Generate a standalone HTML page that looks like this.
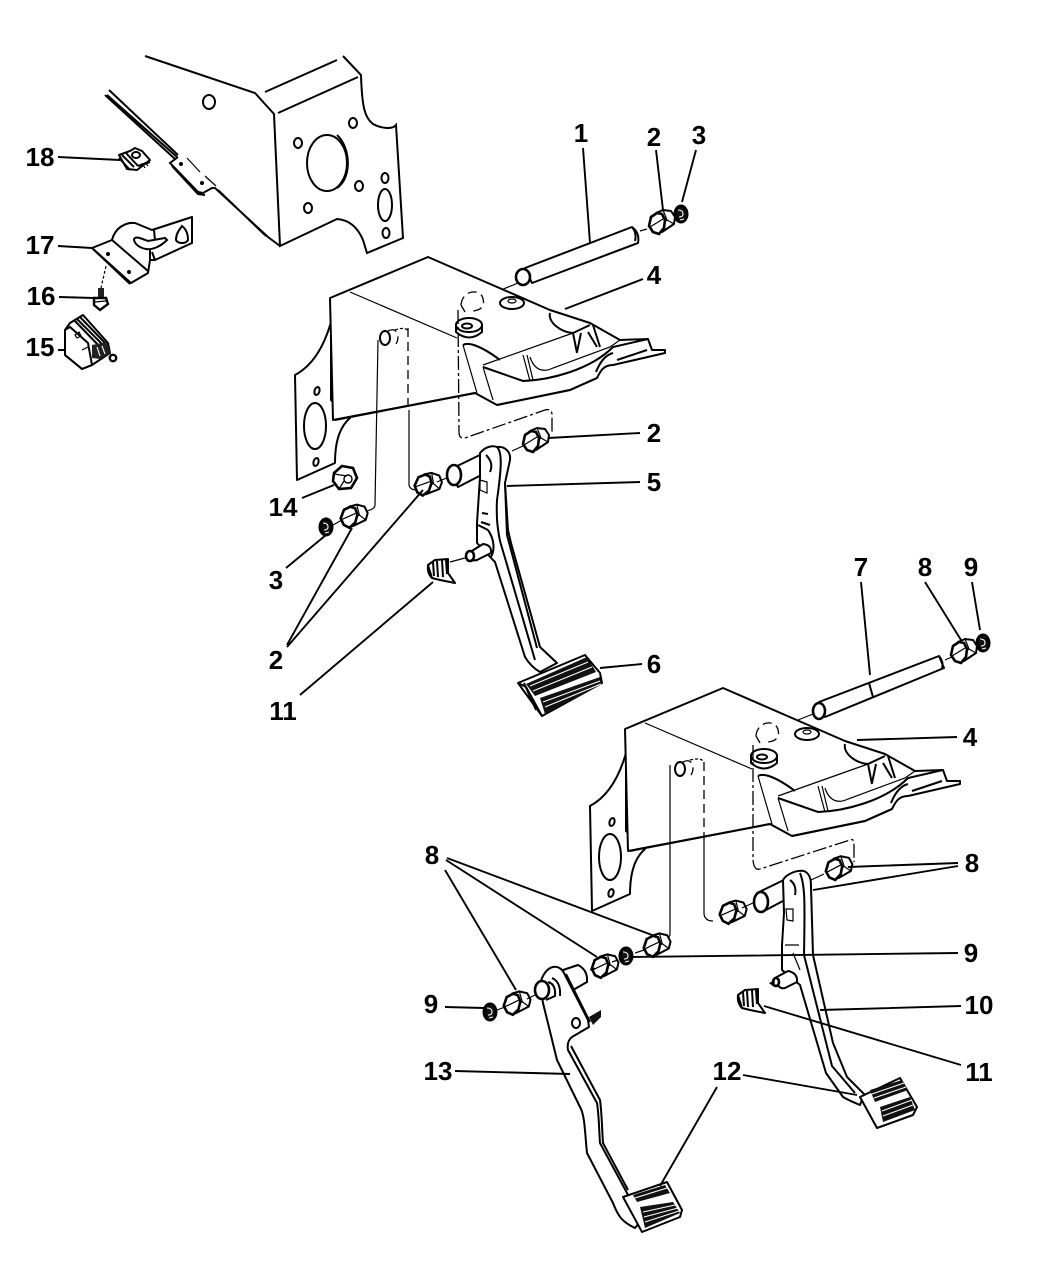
<!DOCTYPE html>
<html><head><meta charset="utf-8"><style>
html,body{margin:0;padding:0;background:#fff}
svg{display:block}
text{font-family:"Liberation Sans",sans-serif;font-size:26px;font-weight:bold;fill:#000;text-anchor:middle}
.l{fill:none;stroke:#000;stroke-width:2}
.t{fill:none;stroke:#000;stroke-width:1.2}
.p{fill:#fff;stroke:#000;stroke-width:2;stroke-linejoin:round}
.h{fill:#fff;stroke:#000;stroke-width:2.6}
.d{fill:none;stroke:#000;stroke-width:1.3;stroke-dasharray:9 5}
.dd{fill:none;stroke:#000;stroke-width:1.3;stroke-dasharray:14 3 3 3}
.w{fill:none;stroke:#fff;stroke-width:1.1}
</style></head><body>
<svg width="1052" height="1277" viewBox="0 0 1052 1277" xmlns="http://www.w3.org/2000/svg">
<defs>
<g id="bush">
<path class="p" d="M-4,-10 L3,-13 L11,-12 L15,-6 L14,1 L2,9Z" stroke-width="2.4"/>
<path class="t" d="M3,-13 L7,-3 L14,1 M7,-3 L1,2"/>
<path class="h" d="M-9,-6 L-3,-10 L2,-9 L5,-3 L4,5 L-1,11 L-7,9 L-11,3Z" stroke-width="3.2"/>
<path class="t" d="M-10,4 L3,-4"/>
</g>
<g id="wash">
<ellipse cx="0" cy="0" rx="6" ry="8" fill="#111" stroke="#000" stroke-width="3"/>
<path class="w" d="M-3,-4 Q2,-4 2,0 Q2,3 -2,3 M-1,6 L3,5" stroke-width="1.3"/>
</g>
<g id="clip">
<path class="p" d="M-12,-3 L-5,-8 L8,-9 L8,5 L15,15 L0,12 L-8,10Z" stroke-width="2.2"/>
<path class="l" d="M-12,-3 Q-13,5 -8,10 M-7,-6 L-6,8 M-3,-7 L-2,9 M2,-8 L3,9 M6,-8 L7,6" stroke-width="2"/>
</g>
<g id="bracket">
<path class="p" d="M331,322 C323,350 310,367 295,375 L297,480 L335,463 C335,437 342,425 350,418 L331,400Z"/>
<ellipse class="l" cx="315" cy="426" rx="11" ry="23" stroke-width="1.5"/>
<ellipse class="l" cx="317" cy="391" rx="2.5" ry="4" transform="rotate(15 317 391)"/>
<ellipse class="l" cx="316" cy="462" rx="2.5" ry="4" transform="rotate(15 316 462)"/>
<path class="p" d="M330,298 L428,257 L550,310 L590,323 L620,340 L648,339 L652,350 L665,350 L665,353 L613,365 C603,365 600,372 597,378 L570,390 L497,405 L475,393 L333,420Z" stroke-width="2.2"/>
<path class="l" d="M475,393 L335,420" stroke-width="2.6"/>
<path class="l" d="M497,405 L570,390 L597,378" stroke-width="3"/>
<path class="t" d="M350,292 L457,338"/>
<path class="t" d="M463,345 L477,393 M483,367 L493,400"/>
<path class="l" d="M463,345 C468,342 480,345 500,360 M483,367 L523,381 C550,380 590,370 613,347 L648,339"/>
<path class="t" d="M483,365 L573,333 M523,355 L530,381 M527,355 L533,380"/>
<path class="l" d="M550,313 C548,322 560,332 573,333 M573,333 L590,325 M573,333 L577,353 M593,325 L600,347" stroke-width="1.5"/>
<path class="l" d="M581,333 L577,352 M588,332 L597,347" stroke-width="2.2"/>
<path class="t" d="M530,357 C535,372 545,372 553,368 L610,347 L620,340"/>
<path class="l" d="M613,353 C605,355 600,362 596,372 M617,360 L647,350" stroke-width="1.5"/>
<ellipse class="p" cx="512" cy="303" rx="12" ry="6"/>
<ellipse class="t" cx="512" cy="301" rx="4" ry="2"/>
<path class="p" d="M456,325 L456,332 Q469,343 482,332 L482,325Z"/>
<ellipse class="p" cx="469" cy="325" rx="13" ry="7"/>
<ellipse class="l" cx="467" cy="326" rx="5" ry="2.5"/>
<path class="d" d="M461,305 C462,292 476,288 482,296 C486,305 482,310 473,311 M461,305 L465,312" stroke-dasharray="4 3"/>
<ellipse class="l" cx="385" cy="338" rx="5" ry="7" stroke-width="1.8"/>
<path class="d" d="M388,331 C398,326 400,338 396,344" stroke-dasharray="4 3"/>
</g>
</defs>

<!-- top panel -->
<path class="l" d="M145,56 L255,93 L274,114 L280,246 L337,219 C350,220 358,228 363,240 L367,253 L403,238 L396,125 C392,130 380,128 373,124 C365,118 362,108 361,75 L343,56"/>
<path class="l" d="M265,92 L337,60 M278,113 L358,77"/>
<ellipse class="l" cx="209" cy="102" rx="6" ry="7" stroke-width="1.6"/>
<ellipse class="l" cx="327" cy="163" rx="20" ry="28" stroke-width="1.5"/>
<path class="l" d="M337,135 C351,148 352,178 337,188" stroke-width="1.6"/>
<ellipse class="l" cx="353" cy="123" rx="4" ry="5"/><ellipse class="l" cx="298" cy="143" rx="4" ry="5"/>
<ellipse class="l" cx="359" cy="186" rx="4" ry="5"/><ellipse class="l" cx="308" cy="208" rx="4" ry="5"/>
<ellipse class="l" cx="385" cy="178" rx="3.5" ry="5"/><ellipse class="l" cx="386" cy="233" rx="3.5" ry="5"/>
<ellipse class="l" cx="385" cy="205" rx="7" ry="16"/>
<path class="l" d="M109,90 L178,155 M107,95 L177,157 M105,95 L175,159" stroke-width="1.6"/>
<path class="l" d="M178,157 L170,163 L198,192 L203,193 L212,188 L215,188 L268,237 L280,246 M172,166 L198,194 L205,195 M218,190 L266,236"/>
<circle cx="181" cy="164" r="2"/><circle cx="202" cy="183" r="2"/>
<path class="t" d="M187,158 L200,172 M205,176 L216,186"/>

<!-- 18 -->
<g transform="translate(133,160)">
<path class="p" d="M-14,-5 L-3,-9 L2,-12 L9,-9 L17,0 L4,10 L-6,9Z"/>
<path class="l" d="M-14,-2 L-3,10 M-11,-5 L1,7 M-7,-7 L5,6 M5,6 L17,2" stroke-width="1.8"/>
<ellipse class="p" cx="3" cy="-5" rx="4" ry="3"/>
<path class="t" d="M9,3 L12,8 M12,2 L15,6"/>
</g>

<!-- 17 -->
<path class="p" d="M92,248 L112,240 C115,228 125,222 135,223 L152,230 L192,217 L192,243 L155,260 L150,260 L148,273 L131,283 L92,248Z"/>
<path class="l" d="M92,248 L130,284 M112,240 L148,271"/>
<path class="l" d="M154,230 L155,240 M152,252 L155,260 M150,250 L150,260"/>
<path class="l" d="M134,239 C136,236 140,238 148,241 L165,238 L167,240 C160,247 152,250 146,249 C140,248 134,244 134,239Z" stroke-width="1.6"/>
<path class="l" d="M176,240 C176,232 181,228 182,226 C186,229 188,233 188,240 C186,244 178,244 176,240Z" stroke-width="1.6"/>
<circle cx="108" cy="254" r="2"/><circle cx="129" cy="272" r="2"/>

<!-- 16 -->
<path class="t" d="M106,266 L101,288" stroke-dasharray="3 2"/>
<path d="M98,288 L104,288 L104,298 L98,298Z" fill="#222"/>
<path d="M94,298 L106,298 L108,304 L100,310 L94,305Z" fill="#fff" stroke="#000" stroke-width="2.4"/>
<path class="t" d="M95,302 L106,301"/>

<!-- 15 -->
<g>
<path class="p" d="M65,330 L70,323 L83,315 L108,343 L110,353 L92,365 L82,369 L65,355Z"/>
<path class="l" d="M65,330 L65,355 L82,369 L92,365 L88,343 L70,327Z"/>
<path class="l" d="M74,320 L102,349 M77,319 L105,347 M80,317 L107,345" stroke-width="2.4"/>
<path d="M92,345 L107,342 L111,354 L100,359 L92,358Z" fill="#222"/>
<path class="w" d="M97,347 L100,356 M102,346 L105,354"/>
<circle cx="113" cy="358" r="3.2" fill="#fff" stroke="#000" stroke-width="2.4"/>
<path class="t" d="M75,335 L79,332 L81,336 L77,338Z M82,350 L88,347"/>
</g>

<!-- rod 1 -->
<path class="p" d="M525,268 L632,227 Q640,233 638,243 L532,283Z"/>
<ellipse class="h" cx="523" cy="277" rx="7" ry="8" stroke-width="3.2"/>
<path class="l" d="M632,227 Q637,233 635,241" stroke-width="2.6"/>
<path class="t" d="M640,231 L647,229"/>
<use href="#bush" x="660" y="223"/>
<use href="#wash" x="681" y="214"/>
<path class="t" d="M518,283 L484,297"/>

<use href="#bracket"/>

<!-- upper pedal connectors -->
<path class="dd" d="M458,310 L459,432 Q459,439 465,438 L545,410 Q552,408 552,415 L552,433"/>
<path class="t" d="M378,340 L375,505 Q375,510 362,512"/>
<path class="d" d="M408,328 L408,410"/>
<path class="t" d="M409,410 L409,485 Q410,490 417,490"/>
<path class="t" d="M395,330 Q407,326 408,332" stroke-dasharray="3 2"/>

<use href="#bush" x="534" y="441"/>
<use href="#bush" x="426" y="485" transform="rotate(12 426 485)"/>
<use href="#bush" x="352" y="517" transform="rotate(8 352 517)"/>
<use href="#wash" x="326" y="527"/>
<path class="t" d="M333,525 L342,520"/>
<path class="t" d="M437,482 L449,477"/>
<path class="t" d="M512,451 L523,446"/>
<!-- 14 -->
<g transform="translate(345,478)">
<path class="h" d="M-11,-5 L-3,-12 L8,-10 L12,0 L6,10 L-6,11 L-12,3Z" stroke-width="3"/>
<circle cx="3" cy="1" r="4" fill="none" stroke="#000" stroke-width="1.4"/>
<path class="t" d="M-11,-4 L2,-2 M-6,11 L-1,3"/>
</g>

<!-- pedal 5/6 -->
<path class="p" d="M449,470 L484,453 L491,470 L458,487Z"/>
<ellipse class="h" cx="454" cy="475" rx="7" ry="10" stroke-width="3"/>
<path class="p" d="M480,453 C485,447 492,445 497,447 C505,446 511,452 510,460 L505,483 L508,530 L511,543 L540,647 L557,663 L540,672 C533,668 528,662 525,657 L495,562 L493,560 L477,543 L477,523 L480,477 Z" stroke-width="2.2"/>
<path class="l" d="M497,447 C502,452 502,465 497,500 C496,520 498,530 500,541 L535,660" stroke-width="1.6"/>
<path class="l" d="M505,483 L507,535 L537,648" stroke-width="2.2"/>
<path class="l" d="M486,455 Q494,463 490,472" stroke-width="2"/>
<path class="l" d="M481,522 L490,525 M482,513 L488,514 M478,525 L488,530 M488,530 C495,540 495,552 490,558" stroke-width="1.4"/>
<path class="t" d="M480,480 L487,482 L487,493 L480,490Z"/>
<path class="p" d="M467,554 L483,544 Q492,545 491,553 L477,560 Q470,562 467,554Z"/>
<ellipse class="h" cx="470" cy="556" rx="4" ry="5"/>
<use href="#clip" x="440" y="568"/>
<path class="t" d="M450,562 L465,558"/>
<!-- pad upper -->
<path class="p" d="M518,683 L585,655 L600,673 L602,683 L542,716Z" stroke-width="2.4"/>
<path d="M526,684 L587,657 L596,672 L535,696Z" fill="#111"/>
<path d="M540,698 L600,677 L602,684 L545,714Z" fill="#111"/>
<path class="w" d="M530,686 L588,662 M533,691 L592,667"/>
<path class="w" d="M543,702 L600,681 M545,707 L601,684"/>
<path class="l" d="M518,683 L526,687 L542,716 M524,683 L536,710" stroke-width="1.6"/>

<!-- rod 7 -->
<path class="p" d="M819,702 L939,656 L944,668 L825,717Z"/>
<path class="l" d="M869,683 L873,697" stroke-width="1"/>
<ellipse class="h" cx="819" cy="711" rx="6" ry="8" stroke-width="3.2"/>
<path class="l" d="M939,656 Q944,662 942,668" stroke-width="2.4"/>
<path class="t" d="M945,660 L952,657"/>
<use href="#bush" x="962" y="652"/>
<use href="#wash" x="983" y="643"/>
<path class="t" d="M813,714 L778,728"/>

<use href="#bracket" x="295" y="431"/>

<!-- lower connectors -->
<path class="dd" d="M753,745 L753,860 Q754,871 760,869 L850,840 Q854,838 854,844 L854,862"/>
<path class="t" d="M670,765 L670,935 Q669,938 664,940"/>
<path class="d" d="M704,762 L704,840" stroke-dasharray="10 5"/>
<path class="t" d="M704,840 L704,914 Q705,921 713,921"/>
<path class="t" d="M690,760 Q703,757 704,763" stroke-dasharray="3 2"/>

<!-- right pedal -->
<use href="#bush" x="731" y="913" transform="rotate(8 731 913)"/>
<path class="t" d="M742,908 L755,902"/>
<path class="p" d="M757,893 L790,877 L796,894 L766,910Z"/>
<ellipse class="h" cx="761" cy="902" rx="7" ry="10" stroke-width="3"/>
<path class="p" d="M783,880 C787,873 798,870 804,871 C811,874 811,882 811,887 L813,955 L833,1043 L847,1077 L864,1094 L860,1105 C848,1100 843,1097 843,1097 L826,1073 L800,985 L782,970 L782,945 L784,913Z" stroke-width="2.2"/>
<path class="l" d="M800,873 C805,885 805,900 804,955 L832,1066 L855,1093" stroke-width="1.6"/>
<path class="l" d="M790,880 Q797,885 795,895"/>
<path class="t" d="M786,909 L793,909 L793,921 L787,920Z"/>
<path class="t" d="M785,945 L799,945 M793,953 L800,970"/>
<path class="p" d="M775,978 L788,971 Q798,973 797,982 L785,988 Q778,990 775,978Z"/>
<ellipse class="h" cx="776" cy="982" rx="3" ry="4" stroke-width="2"/>
<path d="M775,980 L769,983 L774,987Z" fill="#000"/>
<use href="#clip" x="750" y="998"/>
<path class="t" d="M811,880 L824,874"/>
<use href="#bush" x="837" y="869" transform="rotate(4 837 869)"/>
<!-- pad right -->
<path class="p" d="M860,1097 L900,1078 L917,1107 L913,1115 L877,1128Z" stroke-width="2.4"/>
<path d="M870,1090 L902,1080 L908,1090 L875,1102Z" fill="#111"/>
<path d="M880,1107 L910,1097 L915,1110 L883,1122Z" fill="#111"/>
<path class="w" d="M872,1094 L904,1083 M874,1098 L906,1087 M882,1111 L912,1100 M883,1116 L913,1105"/>

<!-- left pedal -->
<use href="#bush" x="655" y="946" transform="rotate(6 655 946)"/>
<use href="#wash" x="626" y="956"/>
<use href="#bush" x="603" y="967" transform="rotate(6 603 967)"/>
<use href="#bush" x="515" y="1004" transform="rotate(6 515 1004)"/>
<use href="#wash" x="490" y="1012"/>
<path class="t" d="M497,1010 L505,1007 M527,999 L535,995 M590,970 L595,968 M612,962 L618,960 M635,953 L644,950"/>
<path class="p" d="M563,970 L578,965 Q588,970 587,982 L573,990 L565,985Z"/>
<path class="p" d="M540,985 C542,974 548,968 553,967 C558,966 562,969 564,973 L588,1020 L589,1027 L572,1037 C568,1040 567,1044 568,1050 L597,1103 C599,1115 599,1130 600,1143 L627,1193 L640,1222 L635,1228 C622,1222 618,1216 613,1203 L587,1153 C585,1135 585,1115 580,1107 L557,1060 L543,1003 Z" stroke-width="2.2"/>
<path class="l" d="M566,974 L590,1022 M571,1046 L600,1100 C602,1115 602,1130 603,1143 L628,1190" stroke-width="1.4"/>
<ellipse class="h" cx="542" cy="990" rx="7" ry="9" stroke-width="3"/>
<path class="l" d="M548,982 Q556,984 555,996 L546,1000 M552,978 Q561,982 560,996" stroke-width="1.8"/>
<ellipse class="l" cx="576" cy="1023" rx="4" ry="5" stroke-width="1.6"/>
<path d="M589,1017 L601,1010 L601,1017 L593,1025Z" fill="#111"/>
<!-- pad left -->
<path class="p" d="M623,1197 L667,1182 L682,1210 L680,1217 L642,1232Z" stroke-width="2.4"/>
<path d="M633,1195 L665,1185 L670,1193 L637,1202Z" fill="#111"/>
<path d="M640,1207 L673,1202 L680,1213 L645,1228Z" fill="#111"/>
<path class="w" d="M635,1198 L667,1188 M643,1212 L675,1205 M644,1217 L678,1208 M645,1222 L679,1211"/>

<!-- leaders -->
<g fill="none" stroke="#000" stroke-width="1.9">
<path d="M58,157 L120,160 M58,246 L92,248 M59,297 L94,298 M58,350 L66,350"/>
<path d="M583,148 L590,243 M656,150 L663,210 M696,150 L682,202"/>
<path d="M643,279 L565,309 M640,433 L548,438 M640,482 L507,486 M642,664 L600,668"/>
<path d="M302,498 L334,485 M286,568 L326,535 M287,645 L352,528 M287,647 L423,490 M300,695 L433,582"/>
<path d="M861,582 L870,675 M925,582 L961,640 M972,582 L980,630"/>
<path d="M957,737 L857,740 M958,863 L848,867 M958,866 L813,890 M958,953 L633,957"/>
<path d="M961,1006 L820,1010 M961,1065 L764,1006 M743,1075 L857,1095 M717,1087 L660,1186"/>
<path d="M447,858 L652,935 M446,860 L597,957 M445,870 L516,990 M445,1007 L484,1008 M455,1071 L570,1074"/>
</g>

<!-- labels -->
<text x="40" y="166">18</text><text x="40" y="254">17</text><text x="41" y="305">16</text><text x="40" y="356">15</text>
<text x="581" y="142">1</text><text x="654" y="146">2</text><text x="699" y="144">3</text>
<text x="654" y="284">4</text><text x="654" y="442">2</text><text x="654" y="491">5</text><text x="654" y="673">6</text>
<text x="283" y="516">14</text><text x="276" y="589">3</text><text x="276" y="669">2</text><text x="283" y="720">11</text>
<text x="861" y="576">7</text><text x="925" y="576">8</text><text x="971" y="576">9</text>
<text x="970" y="746">4</text><text x="972" y="872">8</text><text x="971" y="962">9</text>
<text x="979" y="1014">10</text><text x="979" y="1081">11</text><text x="727" y="1080">12</text>
<text x="432" y="864">8</text><text x="431" y="1013">9</text><text x="438" y="1080">13</text>
</svg>
</body></html>
